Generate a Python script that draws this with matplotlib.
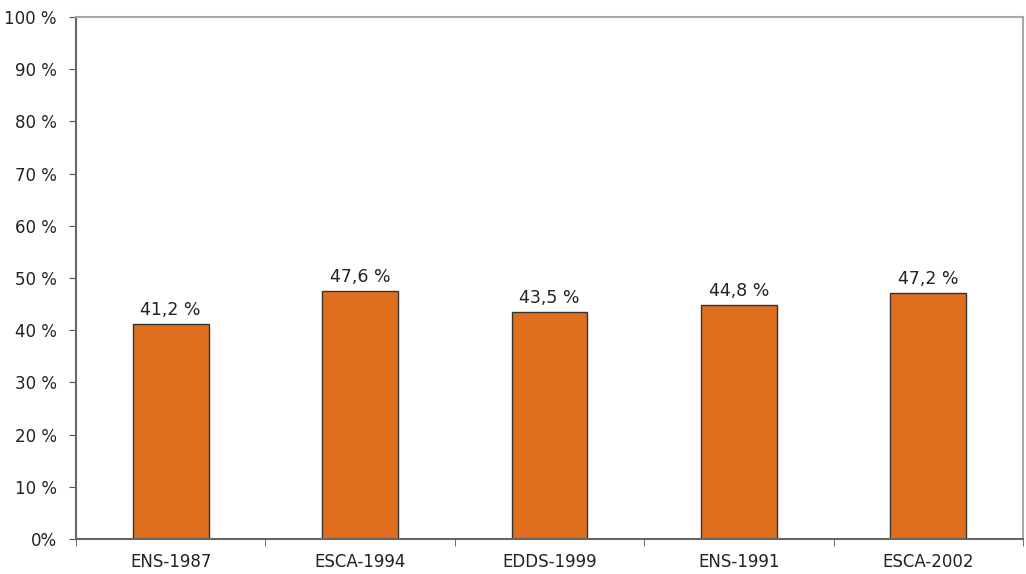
import matplotlib
matplotlib.use("Agg")
import matplotlib.pyplot as plt
from matplotlib.ticker import FixedLocator

categories = ["ENS-1987", "ESCA-1994", "EDDS-1999", "ENS-1991", "ESCA-2002"]
values = [41.2, 47.6, 43.5, 44.8, 47.2]
ytick_values = [0, 10, 20, 30, 40, 50, 60, 70, 80, 90, 100]
ytick_labels = ["0%", "10 %", "20 %", "30 %", "40 %", "50 %", "60 %", "70 %", "80 %", "90 %", "100 %"]

plt.rcParams['font.family'] = ['DejaVu Sans']

fig = plt.figure(figsize=(10.26, 5.74), dpi=100)
ax = fig.add_axes([76 / 1026, 1 - 539 / 574, (1023 - 76) / 1026, (539 - 17) / 574])

x = list(range(len(categories)))
bars = ax.bar(x, values, width=0.4, color="#E06E1F", edgecolor="#333333", linewidth=1)

for xi, v in zip(x, values):
    ax.text(xi, v + 0.9, "{:.1f} %".format(v).replace(".", ","),
            ha="center", va="bottom", fontsize=12.5, color="#222222")

ax.set_xlim(-0.5, len(categories) - 0.5)
ax.set_ylim(0, 100)
ax.set_yticks(ytick_values)
ax.set_yticklabels(ytick_labels)
ax.set_xticks(x)
ax.set_xticklabels(categories)
ax.xaxis.set_major_locator(FixedLocator(x))
ax.xaxis.set_minor_locator(FixedLocator([i - 0.5 for i in range(len(categories) + 1)]))
ax.tick_params(axis="x", which="major", length=0, pad=10, labelsize=12, colors="#222222")
ax.tick_params(axis="x", which="minor", length=5, direction="out", color="#555555")
ax.tick_params(axis="y", length=5, direction="out", color="#555555", labelsize=12, labelcolor="#222222", pad=9)

ax.spines["left"].set_color("#666666")
ax.spines["bottom"].set_color("#666666")
ax.spines["top"].set_color("#A8A8A8")
ax.spines["right"].set_color("#A8A8A8")
for s in ax.spines.values():
    s.set_linewidth(1.5)

fig.savefig("out.png", dpi=100)
